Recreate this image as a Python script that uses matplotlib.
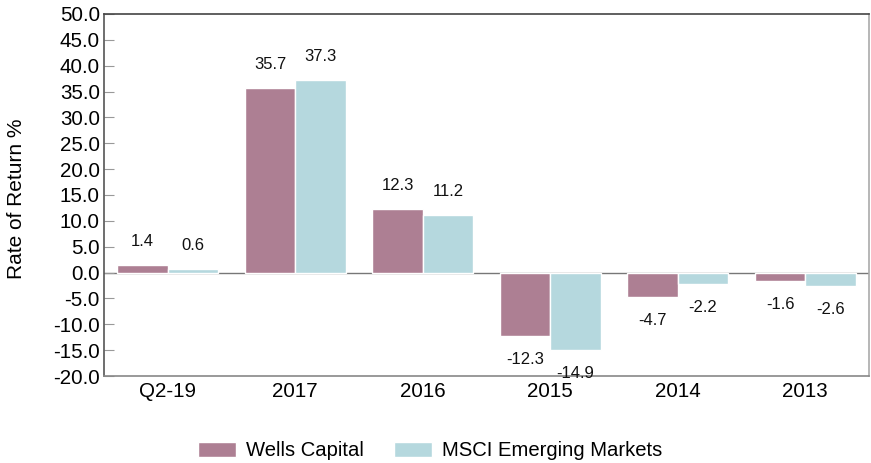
import matplotlib
matplotlib.use("Agg")
import matplotlib.pyplot as plt
import numpy as np

plt.rcParams['font.family'] = ['Liberation Sans', 'DejaVu Sans']

periods = ["Q2-19", "2017", "2016", "2015", "2014", "2013"]
wells_capital = [1.4, 35.7, 12.3, -12.3, -4.7, -1.6]
msci_em = [0.6, 37.3, 11.2, -14.9, -2.2, -2.6]
series_names = ["Wells Capital", "MSCI Emerging Markets"]
y_ticks = np.arange(-20, 50.1, 5)

colors = ["#AD7F93", "#B5D8DE"]

fig = plt.figure(figsize=(8.71, 4.63), dpi=100)
ax = fig.add_axes([0.1194, 0.1879, 0.8783, 0.7819])

x = np.arange(len(periods))
w = 0.395

ax.axhline(0, color="#777777", lw=1.0, zorder=1)
bars = []
for i, (vals, c) in enumerate(zip([wells_capital, msci_em], colors)):
    pos = x + (i - 0.5) * w
    b = ax.bar(pos, vals, width=w, color=c, edgecolor="white", lw=1.0,
               zorder=2, label=series_names[i])
    bars.append(b)
    for xp, v in zip(pos, vals):
        off = 17 if v >= 0 else -17
        ax.annotate(f"{v:.1f}", (xp, v), xytext=(0, off), textcoords="offset points",
                    ha="center", va="center", fontsize=12, color="#111111")

ax.set_xlim(-0.5, 5.5)
ax.set_ylim(-20, 50)
ax.set_yticks(y_ticks)
ax.set_yticklabels([f"{t:.1f}" for t in y_ticks], fontsize=14.8)
ax.set_xticks(x)
ax.set_xticklabels(periods, fontsize=14.8)
ax.tick_params(axis="y", direction="in", length=7, color="#999999", pad=3)
ax.tick_params(axis="x", length=0, pad=4)
ax.spines["left"].set_color("#555555")
ax.spines["top"].set_color("#444444")
ax.spines["right"].set_color("#aaaaaa")
ax.spines["bottom"].set_color("#888888")
for s in ax.spines.values():
    s.set_linewidth(1.2)

ax.set_ylabel("Rate of Return %", fontsize=15, va="center")
ax.yaxis.set_label_coords(-0.115, 0.489)

fig.legend(handles=bars, labels=series_names, loc="center", bbox_to_anchor=(0.494, 0.026),
           ncol=2, frameon=False, fontsize=14.6, handlelength=1.87, handleheight=0.8,
           columnspacing=1.5, handletextpad=0.5, borderpad=0.1)

fig.savefig("out.png", dpi=100)
